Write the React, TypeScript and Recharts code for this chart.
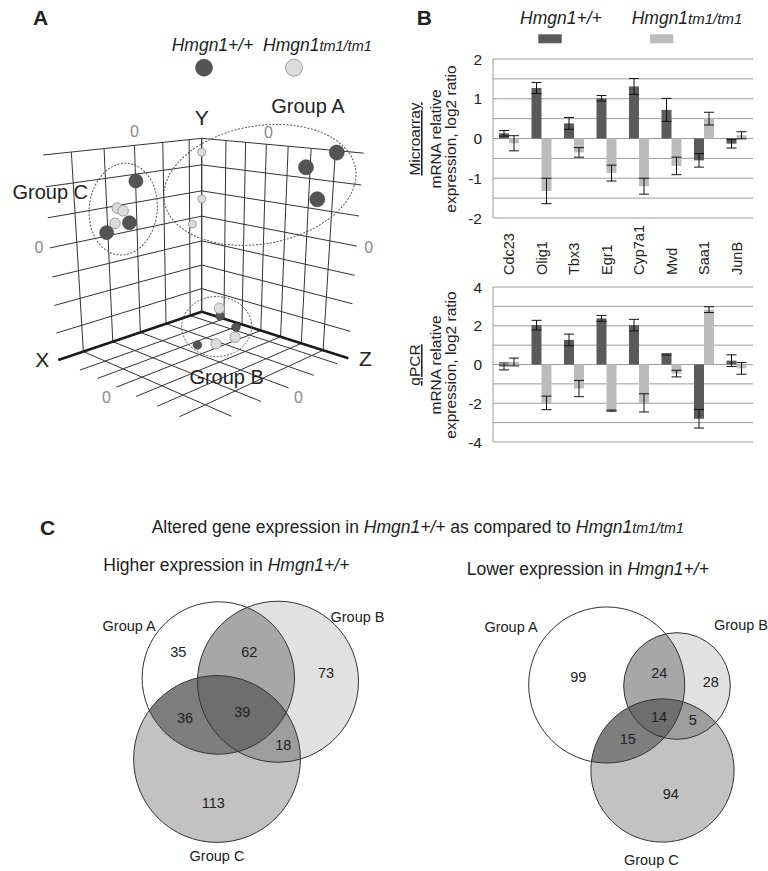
import React from "react";
import { BarChart, Bar, ErrorBar, XAxis, YAxis, CartesianGrid, ScatterChart, Scatter } from "recharts";

const FONT = '"Liberation Sans", Arial, Helvetica, sans-serif';
const DARK = "#5a5a5a";
const LIGHT = "#bcbcbc";
const INK = "#222";

// ---------- panel B: relative expression (log2 ratio) ----------
const genes = ["Cdc23", "Olig1", "Tbx3", "Egr1", "Cyp7a1", "Mvd", "Saa1", "JunB"];
const arrayWt = [0.13, 1.27, 0.38, 1.01, 1.31, 0.72, -0.55, -0.13];
const arrayWtErr = [0.07, 0.14, 0.15, 0.07, 0.2, 0.29, 0.17, 0.11];
const arrayKo = [-0.12, -1.32, -0.35, -0.87, -1.2, -0.69, 0.5, 0.08];
const arrayKoErr = [0.19, 0.32, 0.12, 0.2, 0.2, 0.22, 0.16, 0.09];
const arrayTicks = [-2, -1.5, -1, -0.5, 0, 0.5, 1, 1.5, 2];

const qpcrWt = [-0.1, 2.03, 1.27, 2.38, 2.03, 0.52, -2.8, 0.2];
const qpcrWtErr = [0.18, 0.25, 0.3, 0.15, 0.3, 0.03, 0.48, 0.3];
const qpcrKo = [0.13, -1.98, -1.24, -2.38, -1.98, -0.47, 2.83, -0.2];
const qpcrKoErr = [0.2, 0.35, 0.42, 0.03, 0.47, 0.17, 0.15, 0.3];
const qpcrTicks = [-4, -3, -2, -1, 0, 1, 2, 3, 4];

// ---------- panel A: 3D PCA ----------
const rangeX = [-25, 28];
const rangeY = [-40, 30];
const rangeZ = [-33, 41];
const gridX = [-20, -10, 0, 10, 20];
const gridY = [-30, -20, -10, 0, 10, 20, 30];
const gridZ = [-20, -10, 0, 10, 20, 30];

const groupA = [
  { geno: "wt", x: -25, y: 29.4, z: 30.6 },
  { geno: "wt", x: -25, y: 23.6, z: 18.2 },
  { geno: "wt", x: -25, y: 13.4, z: 23.7 },
  { geno: "ko", x: -25, y: 24.8, z: -33 },
  { geno: "ko", x: -25, y: 6.8, z: -33 },
  { geno: "ko", x: -21.1, y: -2.4, z: -33 },
];
const groupB = [
  { geno: "wt", x: -15.2, y: -33, z: -9.6 },
  { geno: "ko", x: -20.0, y: -33, z: -16.2 },
  { geno: "wt", x: -11.5, y: -33, z: 3.4 },
  { geno: "ko", x: -5.8, y: -33, z: 10.1 },
  { geno: "ko", x: 1.0, y: -33, z: 9.6 },
  { geno: "wt", x: 4.8, y: -33, z: 5.6 },
];
const groupC = [
  { geno: "ko", x: 6.5, y: 9.1, z: -33 },
  { geno: "ko", x: 4.6, y: 7.8, z: -33 },
  { geno: "ko", x: 7.5, y: 3.9, z: -33 },
  { geno: "wt", x: -0.1, y: 17.6, z: -33 },
  { geno: "wt", x: 10.4, y: 1.2, z: -33 },
  { geno: "wt", x: 2.6, y: 3.1, z: -33 },
];

// ---------- panel C: Venn counts ----------
const vennRegions = ["A", "B", "C", "AB", "AC", "BC", "ABC"];
const higherCounts = [35, 73, 113, 62, 36, 18, 39];
const lowerCounts = [99, 28, 94, 24, 15, 5, 14];

// camera for the 3D box (screen px)
const CAM = { ox: 201.7, oy: 311.7, ux: -120.4, uy: 40.5, vy: -159.6, wx: 123.1, wy: 39.1, ku: -0.1606, kv: -0.0795, kw: -0.1606 };

function project(X: number, Y: number, Z: number) {
  const u = (X - rangeX[0]) / (rangeX[1] - rangeX[0]);
  const v = (Y - rangeY[0]) / (rangeY[1] - rangeY[0]);
  const w = (Z - rangeZ[0]) / (rangeZ[1] - rangeZ[0]);
  const h = 1 + CAM.ku * u + CAM.kv * v + CAM.kw * w;
  return { sx: CAM.ox + (u * CAM.ux + w * CAM.wx) / h, sy: CAM.oy + (u * CAM.uy + v * CAM.vy + w * CAM.wy) / h };
}

const DOT_R: Record<string, Record<string, number>> = {
  A: { wt: 7.5, ko: 4 },
  B: { wt: 4.3, ko: 5.2 },
  C: { wt: 7, ko: 5.3 },
};
const ELLIPSE: Record<string, { rx: number; ry: number; rot: number; dx: number; dy: number; lx: number; ly: number }> = {
  A: { rx: 97, ry: 59, rot: -10, dx: 0.6, dy: 2.5, lx: 48, ly: -79 },
  B: { rx: 35, ry: 30, rot: 0, dx: -4, dy: -3, lx: 10, ly: 50 },
  C: { rx: 34, ry: 46, rot: 6, dx: 2, dy: -4, lx: -73, ly: -17 },
};

const none = () => <g />;

const textShape = (size: number, color = INK) => (p: any) => (
  <text
    x={p.cx + (p.payload.dx || 0)}
    y={p.cy + (p.payload.dy || 0)}
    textAnchor="middle"
    dominantBaseline="central"
    fontSize={size}
    fontFamily={FONT}
    fill={color}
  >
    {p.payload.text}
  </text>
);

function PcaPlot() {
  const [x0, x1] = rangeX;
  const [y0, y1] = rangeY;
  const [z0, z1] = rangeZ;
  type P3 = [number, number, number];
  const segs: { id: string; a: P3; b: P3; w: number; c: string }[] = [];
  gridX.forEach((v) => {
    segs.push({ id: `lx${v}`, a: [v, y0, z0], b: [v, y1, z0], w: 1, c: "#333" });
    segs.push({ id: `fx${v}`, a: [v, y0, z0], b: [v, y0, z1], w: 1, c: "#333" });
  });
  gridY.forEach((v) => {
    segs.push({ id: `ly${v}`, a: [x0, v, z0], b: [x1, v, z0], w: 1, c: "#333" });
    segs.push({ id: `ry${v}`, a: [x0, v, z0], b: [x0, v, z1], w: 1, c: "#333" });
  });
  gridZ.forEach((v) => {
    segs.push({ id: `rz${v}`, a: [x0, y0, v], b: [x0, y1, v], w: 1, c: "#333" });
    segs.push({ id: `fz${v}`, a: [x0, y0, v], b: [x1, y0, v], w: 1, c: "#333" });
  });
  segs.push({ id: "axY", a: [x0, y0, z0], b: [x0, y1, z0], w: 1.3, c: "#333" });
  segs.push({ id: "axX", a: [x0, y0, z0], b: [x1, y0, z0], w: 2.6, c: "#1a1a1a" });
  segs.push({ id: "axZ", a: [x0, y0, z0], b: [x0, y0, z1], w: 2.6, c: "#1a1a1a" });

  const groups: [string, typeof groupA][] = [["A", groupA], ["B", groupB], ["C", groupC]];
  const points = groups.flatMap(([g, pts]) => pts.map((p) => ({ ...project(p.x, p.y, p.z), geno: p.geno, group: g })));
  const hulls = groups.map(([g, pts]) => {
    const pr = pts.map((p) => project(p.x, p.y, p.z));
    const e = ELLIPSE[g];
    return {
      group: g,
      sx: pr.reduce((s, q) => s + q.sx, 0) / pr.length + e.dx,
      sy: pr.reduce((s, q) => s + q.sy, 0) / pr.length + e.dy,
    };
  });
  const groupLabels = hulls.map((h) => ({ sx: h.sx, sy: h.sy, dx: ELLIPSE[h.group].lx, dy: ELLIPSE[h.group].ly, text: `Group ${h.group}` }));

  const zeroTicks = [
    { p: project(0, y1, z0), dx: 0, dy: -14 },
    { p: project(x1, 0, z0), dx: -11, dy: 0 },
    { p: project(x0, y1, 0), dx: 2, dy: -12 },
    { p: project(x0, 0, z1), dx: 12, dy: 1 },
    { p: project(x1, y0, 0), dx: -10, dy: 10 },
    { p: project(0, y0, z1), dx: 10, dy: 10 },
  ].map((t) => ({ ...t.p, dx: t.dx, dy: t.dy, text: "0" }));
  const axisNames = [
    { ...project(x1, y0, z0), dx: -16, dy: 0, text: "X" },
    { ...project(x0, y1, z0), dx: 0, dy: -21, text: "Y" },
    { ...project(x0, y0, z1), dx: 17, dy: 0, text: "Z" },
  ];

  const dotShape = (p: any) => {
    const r = DOT_R[p.payload.group][p.payload.geno];
    return p.payload.geno === "wt" ? (
      <circle cx={p.cx} cy={p.cy} r={r} fill="#545454" stroke="#3c3c3c" strokeWidth={0.6} />
    ) : (
      <circle cx={p.cx} cy={p.cy} r={r} fill="#dcdcdc" stroke="#8c8c8c" strokeWidth={0.8} />
    );
  };
  const ellipseShape = (p: any) => {
    const e = ELLIPSE[p.payload.group];
    return (
      <ellipse
        cx={p.cx}
        cy={p.cy}
        rx={e.rx}
        ry={e.ry}
        transform={`rotate(${e.rot} ${p.cx} ${p.cy})`}
        fill="none"
        stroke="#555"
        strokeWidth={1}
        strokeDasharray="2 1.5"
      />
    );
  };

  return (
    <ScatterChart width={385} height={470} margin={{ top: 0, right: 0, bottom: 0, left: 0 }}>
      <XAxis type="number" dataKey="sx" domain={[0, 385]} hide allowDataOverflow />
      <YAxis type="number" dataKey="sy" domain={[0, 470]} reversed hide allowDataOverflow />
      {segs.map((s) => (
        <Scatter
          key={s.id}
          data={[project(...s.a), project(...s.b)]}
          line={{ stroke: s.c, strokeWidth: s.w }}
          stroke={s.c}
          shape={none}
          isAnimationActive={false}
        />
      ))}
      <Scatter data={hulls} shape={ellipseShape} isAnimationActive={false} />
      <Scatter data={points} shape={dotShape} isAnimationActive={false} />
      <Scatter data={zeroTicks} shape={textShape(16, "#8a8a8a")} isAnimationActive={false} />
      <Scatter data={axisNames} shape={textShape(21)} isAnimationActive={false} />
      <Scatter data={groupLabels} shape={textShape(20)} isAnimationActive={false} />
    </ScatterChart>
  );
}

const GeneTick = (props: any) => {
  const { x, y, payload } = props;
  return (
    <text
      transform={`translate(${x},${y + 57}) rotate(-90)`}
      textAnchor="start"
      dominantBaseline="central"
      fontSize={14.5}
      fontFamily={FONT}
      fill={INK}
    >
      {payload.value}
    </text>
  );
};

function ExpressionBars(props: {
  wt: number[]; wtErr: number[]; ko: number[]; koErr: number[];
  ticks: number[]; labelEvery: number; height: number; top: number; bottom: number; showGenes: boolean;
}) {
  const rows = genes.map((g, i) => ({ gene: g, wt: props.wt[i], wtErr: props.wtErr[i], ko: props.ko[i], koErr: props.koErr[i] }));
  const lo = props.ticks[0];
  const hi = props.ticks[props.ticks.length - 1];
  return (
    <BarChart
      width={360}
      height={props.height}
      data={rows}
      margin={{ top: props.top, right: 7, bottom: props.bottom, left: 73 }}
      barGap={0}
      barSize={10}
    >
      <CartesianGrid vertical={false} stroke="#9c9c9c" />
      <XAxis
        dataKey="gene"
        hide={!props.showGenes}
        height={62}
        axisLine={false}
        tickLine={false}
        tickSize={0}
        tickMargin={0}
        interval={0}
        tick={(p: any) => <GeneTick {...p} />}
      />
      <YAxis
        type="number"
        domain={[lo, hi]}
        ticks={props.ticks}
        interval={0}
        width={20}
        allowDataOverflow
        tickLine={false}
        tickSize={8}
        tickMargin={3}
        axisLine={{ stroke: "#9c9c9c" }}
        tickFormatter={(v: number) => (Math.abs(v % props.labelEvery) < 1e-9 ? String(v) : "")}
        tick={{ fontSize: 15.5, fill: INK, fontFamily: FONT }}
      />
      <Bar dataKey="wt" fill={DARK} isAnimationActive={false}>
        <ErrorBar dataKey="wtErr" width={5} stroke="#111" strokeWidth={1} />
      </Bar>
      <Bar dataKey="ko" fill={LIGHT} isAnimationActive={false}>
        <ErrorBar dataKey="koErr" width={5} stroke="#111" strokeWidth={1} />
      </Bar>
    </BarChart>
  );
}

const VENN_FILL: Record<string, string> = {
  A: "#ffffff", B: "#e1e1e1", C: "#c2c2c2", AB: "#a7a7a7", AC: "#7e7e7e", BC: "#9d9d9d", ABC: "#6e6e6e",
};

type VennLayout = {
  box: { x: number; y: number; w: number; h: number };
  k: number;
  centers: Record<string, [number, number]>;
  regionPos: Record<string, [number, number]>;
  setLabelPos: Record<string, [number, number]>;
};

const higherLayout: VennLayout = {
  box: { x: 0, y: 580, w: 400, h: 291 },
  k: 5.81,
  centers: { A: [218.3, 678], B: [278, 681.7], C: [217, 759] },
  regionPos: { A: [178.3, 651.7], B: [326, 672.7], C: [213.3, 802.7], AB: [249.3, 651.7], AC: [185, 718.3], BC: [283.3, 745], ABC: [242.3, 712.3] },
  setLabelPos: { A: [129.2, 625.5], B: [357.5, 617.3], C: [217, 856] },
};
const lowerLayout: VennLayout = {
  box: { x: 400, y: 580, w: 368, h: 291 },
  k: 6.33,
  centers: { A: [606.7, 685], B: [677, 686], C: [662.5, 770.5] },
  regionPos: { A: [578.3, 677.3], B: [710.7, 681.7], C: [670.7, 794.3], AB: [659.3, 673.3], AC: [627.7, 739.3], BC: [692.7, 720], ABC: [659, 717.3] },
  setLabelPos: { A: [511, 626.7], B: [741, 625], C: [651.3, 860] },
};

function Venn({ id, counts, layout }: { id: string; counts: number[]; layout: VennLayout }) {
  const sets = ["A", "B", "C"];
  const total = (s: string) => vennRegions.reduce((acc, key, i) => (key.includes(s) ? acc + counts[i] : acc), 0);
  const circles = sets.map((s) => ({ key: s, sx: layout.centers[s][0], sy: layout.centers[s][1], r: layout.k * Math.sqrt(total(s)) }));
  const numbers = vennRegions.map((key, i) => ({ sx: layout.regionPos[key][0], sy: layout.regionPos[key][1], text: String(counts[i]) }));
  const setLabels = sets.map((s) => ({ sx: layout.setLabelPos[s][0], sy: layout.setLabelPos[s][1], text: `Group ${s}` }));
  const cid = (s: string) => `${id}-clip-${s}`;

  const fillShape = (p: any) => {
    const { cx, cy } = p;
    const { key, r } = p.payload;
    return (
      <g>
        <clipPath id={cid(key)}>
          <circle cx={cx} cy={cy} r={r} />
        </clipPath>
        <circle cx={cx} cy={cy} r={r} fill={VENN_FILL[key]} />
        {key === "B" && <circle cx={cx} cy={cy} r={r} fill={VENN_FILL.AB} clipPath={`url(#${cid("A")})`} />}
        {key === "C" && (
          <g>
            <circle cx={cx} cy={cy} r={r} fill={VENN_FILL.AC} clipPath={`url(#${cid("A")})`} />
            <circle cx={cx} cy={cy} r={r} fill={VENN_FILL.BC} clipPath={`url(#${cid("B")})`} />
            <g clipPath={`url(#${cid("A")})`}>
              <circle cx={cx} cy={cy} r={r} fill={VENN_FILL.ABC} clipPath={`url(#${cid("B")})`} />
            </g>
          </g>
        )}
      </g>
    );
  };
  const outlineShape = (p: any) => <circle cx={p.cx} cy={p.cy} r={p.payload.r} fill="none" stroke="#333" strokeWidth={1} />;
  const { box } = layout;
  return (
    <ScatterChart width={box.w} height={box.h} margin={{ top: 0, right: 0, bottom: 0, left: 0 }}>
      <XAxis type="number" dataKey="sx" domain={[box.x, box.x + box.w]} hide allowDataOverflow />
      <YAxis type="number" dataKey="sy" domain={[box.y, box.y + box.h]} reversed hide allowDataOverflow />
      <Scatter data={circles} shape={fillShape} isAnimationActive={false} />
      <Scatter data={circles} shape={outlineShape} isAnimationActive={false} />
      <Scatter data={numbers} shape={textShape(14.5)} isAnimationActive={false} />
      <Scatter data={setLabels} shape={textShape(14.5)} isAnimationActive={false} />
    </ScatterChart>
  );
}

function Overlay() {
  const t = { fontFamily: FONT, fill: INK };
  return (
    <svg width={768} height={871} style={{ position: "absolute", left: 0, top: 0, pointerEvents: "none" }}>
      <text x={33} y={25} fontSize={21} fontWeight="bold" {...t}>A</text>
      <text x={416.7} y={25} fontSize={21} fontWeight="bold" {...t}>B</text>
      <text x={40} y={535} fontSize={21} fontWeight="bold" {...t}>C</text>

      {/* panel A legend */}
      <text x={171.7} y={50.7} fontSize={17.5} fontStyle="italic" {...t}>Hmgn1+/+</text>
      <text x={263} y={50.7} fontSize={17.5} fontStyle="italic" {...t}>
        Hmgn1<tspan fontSize={14.5}>tm1/tm1</tspan>
      </text>
      <circle cx={204} cy={67.7} r={8.5} fill="#545454" stroke="#3c3c3c" strokeWidth={0.6} />
      <circle cx={294} cy={67.7} r={8.5} fill="#dcdcdc" stroke="#8c8c8c" strokeWidth={0.8} />

      {/* panel B legend */}
      <text x={520} y={24} fontSize={17.5} fontStyle="italic" {...t}>Hmgn1+/+</text>
      <text x={631.7} y={24} fontSize={17.5} fontStyle="italic" {...t}>
        Hmgn1<tspan fontSize={15}>tm1/tm1</tspan>
      </text>
      <rect x={538.3} y={34.3} width={23.4} height={9} fill={DARK} />
      <rect x={650} y={34.3} width={23.3} height={9} fill={LIGHT} />

      {/* panel B axis titles */}
      <text transform="translate(420,139) rotate(-90)" textAnchor="middle" fontSize={15.5} textDecoration="underline" {...t}>Microarray</text>
      <text transform="translate(440.5,139) rotate(-90)" textAnchor="middle" fontSize={15.5} {...t}>mRNA relative</text>
      <text transform="translate(456,139) rotate(-90)" textAnchor="middle" fontSize={15.5} {...t}>expression, log2 ratio</text>
      <text transform="translate(420,365) rotate(-90)" textAnchor="middle" fontSize={15.5} textDecoration="underline" {...t}>qPCR</text>
      <text transform="translate(440.5,365) rotate(-90)" textAnchor="middle" fontSize={15.5} {...t}>mRNA relative</text>
      <text transform="translate(456,365) rotate(-90)" textAnchor="middle" fontSize={15.5} {...t}>expression, log2 ratio</text>

      {/* panel C titles */}
      <text x={151.7} y={532.7} fontSize={17.5} {...t}>
        Altered gene expression in <tspan fontStyle="italic">Hmgn1+/+</tspan> as compared to{" "}
        <tspan fontStyle="italic">Hmgn1</tspan>
        <tspan fontStyle="italic" fontSize={14.3}>tm1/tm1</tspan>
      </text>
      <text x={103.3} y={570.7} fontSize={17.5} {...t}>
        Higher expression in <tspan fontStyle="italic">Hmgn1+/+</tspan>
      </text>
      <text x={466.7} y={575} fontSize={17.5} {...t}>
        Lower expression in <tspan fontStyle="italic">Hmgn1+/+</tspan>
      </text>
    </svg>
  );
}

export default function App() {
  return (
    <div style={{ position: "absolute", left: 0, top: 0, width: 768, height: 871, background: "#fff", overflow: "hidden", fontFamily: FONT }}>
      <div style={{ position: "absolute", left: 0, top: 0 }}>
        <PcaPlot />
      </div>
      <div style={{ position: "absolute", left: 400, top: 45 }}>
        <ExpressionBars wt={arrayWt} wtErr={arrayWtErr} ko={arrayKo} koErr={arrayKoErr} ticks={arrayTicks} labelEvery={1} height={235} top={14} bottom={0} showGenes />
      </div>
      <div style={{ position: "absolute", left: 400, top: 280 }}>
        <ExpressionBars wt={qpcrWt} wtErr={qpcrWtErr} ko={qpcrKo} koErr={qpcrKoErr} ticks={qpcrTicks} labelEvery={2} height={170} top={7} bottom={8} showGenes={false} />
      </div>
      <div style={{ position: "absolute", left: higherLayout.box.x, top: higherLayout.box.y }}>
        <Venn id="hi" counts={higherCounts} layout={higherLayout} />
      </div>
      <div style={{ position: "absolute", left: lowerLayout.box.x, top: lowerLayout.box.y }}>
        <Venn id="lo" counts={lowerCounts} layout={lowerLayout} />
      </div>
      <Overlay />
    </div>
  );
}
